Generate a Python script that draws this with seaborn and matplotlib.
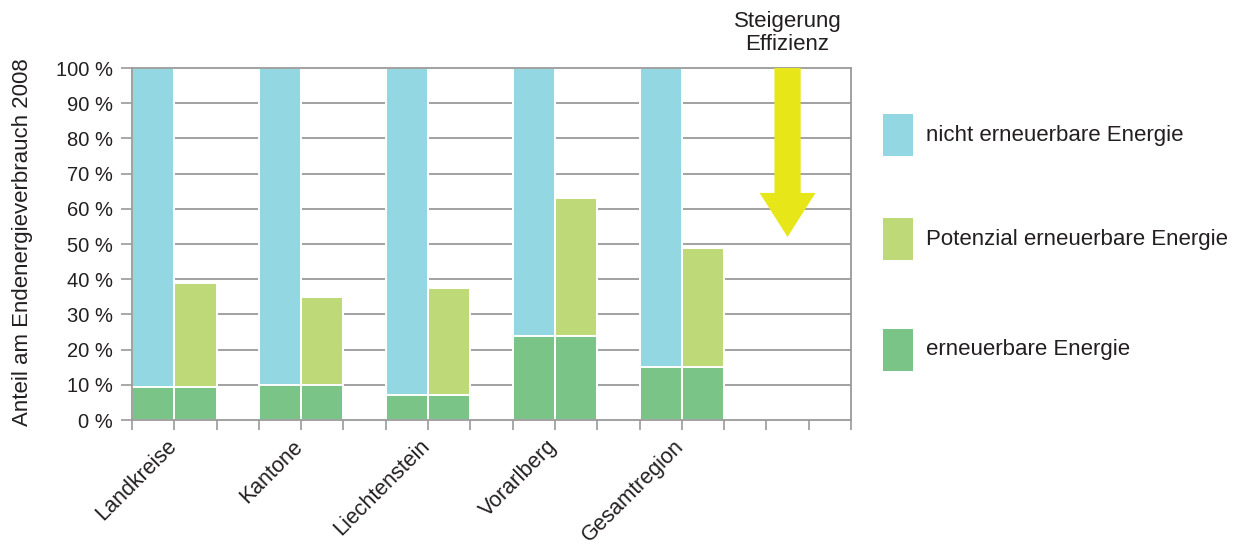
import matplotlib
matplotlib.use("Agg")
import matplotlib.pyplot as plt
import matplotlib.transforms as mtransforms
import seaborn as sns
import pandas as pd
from matplotlib.patches import Rectangle, FancyArrow

categories = ["Landkreise", "Kantone", "Liechtenstein", "Vorarlberg", "Gesamtregion"]
erneuerbar = [9.5, 10, 7, 24, 15]
potenzial_bis = [39, 35, 37.5, 63, 49]
nicht_bis = [100, 100, 100, 100, 100]
yticks = [0, 10, 20, 30, 40, 50, 60, 70, 80, 90, 100]
ytick_labels = [f"{v} %" for v in yticks]
legend_labels = ["nicht erneuerbare Energie", "Potenzial erneuerbare Energie", "erneuerbare Energie"]
arrow_title = "Steigerung\nEffizienz"
arrow_from, arrow_to = 100, 52
ylabel = "Anteil am Endenergieverbrauch 2008"

C_BLUE = "#93D7E2"
C_LIGHT = "#BDD978"
C_GREEN = "#7AC487"
C_YEL = "#E6E619"
C_GRID = "#9a9a9a"
C_TXT = "#231f20"

sns.set_theme(style="white")
plt.rcParams["font.family"] = ["Liberation Sans", "DejaVu Sans"]

W, H = 1238, 546
n_slots = 17
left_pos = [3 * i for i in range(len(categories))]
right_pos = [3 * i + 1 for i in range(len(categories))]

df_nicht = pd.DataFrame({"pos": left_pos, "h": nicht_bis})
df_pot = pd.DataFrame({"pos": right_pos, "h": potenzial_bis})
df_ern = pd.DataFrame({"pos": left_pos + right_pos, "h": erneuerbar + erneuerbar})

fig = plt.figure(figsize=(W / 100, H / 100), dpi=100)
ax = fig.add_axes([132 / W, 126 / H, 719 / W, 352 / H])

# grid lines behind bars
for v in yticks[1:-1]:
    ax.axhline(v, color=C_GRID, lw=1.3, zorder=0)

kw = dict(native_scale=True, edgecolor="white", linewidth=1.4, ax=ax, zorder=2, saturation=1)
# native_scale widths are relative to the spacing of each series' own positions
sns.barplot(data=df_nicht, x="pos", y="h", color=C_BLUE, width=1 / 3, **kw)
sns.barplot(data=df_pot, x="pos", y="h", color=C_LIGHT, width=1 / 3, **kw)
sns.barplot(data=df_ern, x="pos", y="h", color=C_GREEN, width=1, **kw)

ax.set_xlim(-0.5, n_slots - 0.5)
ax.set_ylim(0, 100)

# x ticks at every slot boundary; labels at the boundary between a category's two bars
bounds = [k - 0.5 for k in range(n_slots + 1)]
labels = [""] * len(bounds)
for i, c in enumerate(categories):
    labels[3 * i + 1] = c
ax.set_xticks(bounds)
ax.set_xticklabels(labels, rotation=45, ha="right", rotation_mode="anchor",
                   fontsize=15.5, color=C_TXT)
ax.tick_params(axis="x", bottom=True, length=7, width=1.2, color=C_GRID, pad=3)
shift = mtransforms.ScaledTranslation(-8.5 / 100, -2 / 100, fig.dpi_scale_trans)
for lab in ax.get_xticklabels():
    lab.set_transform(lab.get_transform() + shift)
ax.set_yticks(yticks)
ax.set_yticklabels(ytick_labels, fontsize=14.5, color=C_TXT)
ax.tick_params(axis="y", left=True, length=8, width=1.2, color=C_GRID, pad=6)
ax.set_xlabel("")
ax.set_ylabel(ylabel, fontsize=16, color=C_TXT)
ax.yaxis.set_label_coords(-0.137, 0.505)

for s in ax.spines.values():
    s.set_color(C_GRID)
    s.set_linewidth(1.3)
ax.grid(False)

# efficiency arrow
arr = FancyArrow(15, arrow_from, 0, arrow_to - arrow_from, width=0.62, head_width=1.32,
                 head_length=12.5, length_includes_head=True, color=C_YEL, lw=0, zorder=3)
ax.add_patch(arr)
ax.text(15, 103.8, arrow_title, ha="center", va="bottom", fontsize=16, color=C_TXT,
        linespacing=1.1, clip_on=False)

# legend (drawn manually for exact square size/spacing)
leg_colors = [C_BLUE, C_LIGHT, C_GREEN]
leg_tops = [114, 218, 329]
for col, top, lab in zip(leg_colors, leg_tops, legend_labels):
    fig.add_artist(Rectangle((883 / W, 1 - (top + 42) / H), 30 / W, 42 / H,
                             transform=fig.transFigure, facecolor=col, edgecolor="none"))
    fig.text(926 / W, 1 - (top + 21) / H, lab, ha="left", va="center",
             fontsize=16, color=C_TXT)

fig.savefig("out.png", dpi=100)
